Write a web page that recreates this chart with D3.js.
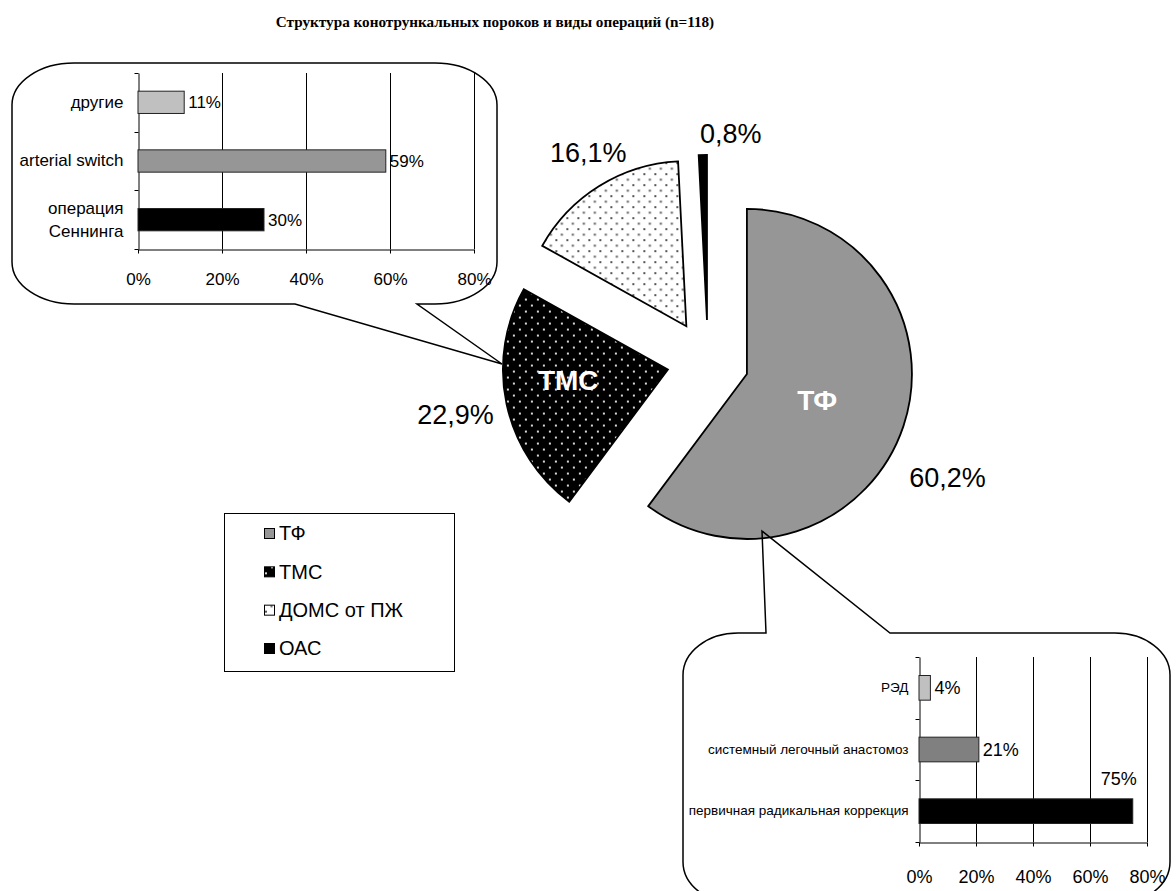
<!DOCTYPE html>
<html>
<head>
<meta charset="utf-8">
<script src="https://cdn.jsdelivr.net/npm/d3@7"></script>
<style>
  body { margin: 0; background: #fff; }
  svg { display: block; font-family: "Liberation Sans", Arial, sans-serif; }
</style>
</head>
<body>
<figure id="chart" style="margin:0"></figure>
<script>
// pie: structure of conotruncal defects
const defects = ["ТФ", "ТМС", "ДОМС от ПЖ", "ОАС"];
const defectShares = [60.2, 22.9, 16.1, 0.8];
const defectLabels = ["60,2%", "22,9%", "16,1%", "0,8%"];

// operations for ТМС
const tmcOps = ["другие", "arterial switch", "операция Сеннинга"];
const tmcValues = [0.11, 0.59, 0.30];

// operations for ТФ
const tfOps = ["РЭД", "системный легочный анастомоз", "первичная радикальная коррекция"];
const tfValues = [0.04, 0.21, 0.75];

const xTicks = [0, 0.2, 0.4, 0.6, 0.8];

const width = 1176, height = 891;

const svg = d3.select("figure#chart")
  .append("svg")
  .attr("width", width)
  .attr("height", height);

// patterns for the dotted slices
const defs = svg.append("defs");
function dotPattern(id, size, bg, dot) {
  const p = defs.append("pattern")
    .attr("id", id)
    .attr("width", size).attr("height", size)
    .attr("patternUnits", "userSpaceOnUse");
  p.append("rect").attr("width", size).attr("height", size).attr("fill", bg);
  p.append("rect").attr("x", 1).attr("y", 1).attr("width", 2).attr("height", 2).attr("fill", dot);
  p.append("rect").attr("x", 1 + size / 2).attr("y", 1 + size / 2).attr("width", 2).attr("height", 2).attr("fill", dot);
}
dotPattern("dotsDark", 12, "#000", "#d8d8d8");
dotPattern("dotsLight", 11, "#fff", "#555");

const sliceFill = {
  "ТФ": "#969696",
  "ТМС": "url(#dotsDark)",
  "ДОМС от ПЖ": "url(#dotsLight)",
  "ОАС": "#000"
};

// title
svg.append("text")
  .attr("x", 495).attr("y", 27)
  .attr("text-anchor", "middle")
  .style("font-family", "'Liberation Serif', 'Times New Roman', serif")
  .style("font-weight", "bold")
  .style("font-size", "15.2px")
  .text("Структура конотрункальных пороков и виды операций (n=118)");

// ---------- pie ----------
const cx = 708, cy = 361, R = 165, explode = 41;
const pieData = defects.map((d, i) => ({ name: d, value: defectShares[i], label: defectLabels[i] }));

const pie = d3.pie().sort(null).value(d => d.value).startAngle(0).endAngle(2 * Math.PI);
const arc = d3.arc().innerRadius(0).outerRadius(R);
const arcs = pie(pieData);

const mid = a => (a.startAngle + a.endAngle) / 2;
const dir = a => [Math.sin(mid(a)), -Math.cos(mid(a))];

const pieG = svg.append("g").attr("transform", `translate(${cx},${cy})`);

pieG.selectAll("path.slice")
  .data(arcs)
  .enter()
  .append("path")
  .attr("class", "slice")
  .attr("transform", d => `translate(${dir(d)[0] * explode},${dir(d)[1] * explode})`)
  .attr("d", arc)
  .attr("fill", d => sliceFill[d.data.name])
  .attr("stroke", "#000")
  .attr("stroke-width", 1.8)
  .attr("stroke-linejoin", "miter");

// percentage labels outside the pie (nudged like the Excel layout)
const outerNudge = { "ТФ": [6, 39], "ТМС": [-12, 2], "ДОМС от ПЖ": [10, 0], "ОАС": [29, 18] };
const labelR = explode + R + 40;
pieG.selectAll("text.pct")
  .data(arcs)
  .enter()
  .append("text")
  .attr("class", "pct")
  .attr("x", d => dir(d)[0] * labelR + outerNudge[d.data.name][0])
  .attr("y", d => dir(d)[1] * labelR + outerNudge[d.data.name][1])
  .attr("dy", "0.36em")
  .attr("text-anchor", "middle")
  .style("font-size", "27px")
  .text(d => d.data.label);

// names inside the two large slices
const innerNudge = { "ТФ": [-8, 0], "ТМС": [-19, -7] };
pieG.selectAll("text.inner")
  .data(arcs.filter(d => innerNudge[d.data.name]))
  .enter()
  .append("text")
  .attr("class", "inner")
  .attr("x", d => dir(d)[0] * (explode + R * 0.5) + innerNudge[d.data.name][0])
  .attr("y", d => dir(d)[1] * (explode + R * 0.5) + innerNudge[d.data.name][1])
  .attr("dy", "0.36em")
  .attr("text-anchor", "middle")
  .attr("fill", "#fff")
  .style("font-size", "28px")
  .style("font-weight", "bold")
  .text(d => d.data.name);

// ---------- legend ----------
const legend = svg.append("g");
legend.append("rect")
  .attr("x", 224.5).attr("y", 513.5)
  .attr("width", 230).attr("height", 158)
  .attr("fill", "#fff")
  .attr("stroke", "#000");

const legendY = d3.scalePoint().domain(defects).range([533, 648]);
const items = legend.selectAll("g.item")
  .data(defects)
  .enter()
  .append("g")
  .attr("class", "item")
  .attr("transform", d => `translate(264,${legendY(d)})`);
items.append("rect")
  .attr("x", 0.5).attr("y", -4.5)
  .attr("width", 10).attr("height", 10)
  .attr("fill", d => sliceFill[d])
  .attr("stroke", "#000");
items.append("text")
  .attr("x", 15).attr("dy", "0.36em")
  .style("font-size", "20px")
  .text(d => d);

// ---------- callouts ----------
function bubble(x0, y0, x1, y1, rx, ry, tail, side) {
  let p = `M${x0 + rx},${y0}`;
  if (side === "top") p += `L${tail[0][0]},${tail[0][1]}L${tail[1][0]},${tail[1][1]}L${tail[2][0]},${tail[2][1]}`;
  p += `L${x1 - rx},${y0}A${rx},${ry} 0 0 1 ${x1},${y0 + ry}`;
  p += `L${x1},${y1 - ry}A${rx},${ry} 0 0 1 ${x1 - rx},${y1}`;
  if (side === "bottom") p += `L${tail[0][0]},${tail[0][1]}L${tail[1][0]},${tail[1][1]}L${tail[2][0]},${tail[2][1]}`;
  p += `L${x0 + rx},${y1}A${rx},${ry} 0 0 1 ${x0},${y1 - ry}`;
  p += `L${x0},${y0 + ry}A${rx},${ry} 0 0 1 ${x0 + rx},${y0}Z`;
  return p;
}

svg.append("path")
  .attr("d", bubble(12, 63, 497, 304, 62, 42, [[417, 304], [502, 364], [295, 304]], "bottom"))
  .attr("fill", "none")
  .attr("stroke", "#000")
  .attr("stroke-width", 1.5);

svg.append("path")
  .attr("d", bubble(683, 633, 1170, 904, 55, 42, [[766, 633], [762, 531], [890, 633]], "top"))
  .attr("fill", "none")
  .attr("stroke", "#000")
  .attr("stroke-width", 1.5);

// ---------- bar charts ----------
function wrap(text, maxWidth, lineHeight) {
  text.each(function () {
    const t = d3.select(this);
    if (this.getComputedTextLength() <= maxWidth) return;
    const words = t.text().split(" ");
    const x = t.attr("x");
    t.text(null);
    const n = words.length;
    words.forEach((w, i) => {
      t.append("tspan")
        .attr("x", x)
        .attr("dy", i === 0 ? ((-(n - 1) / 2) * lineHeight + 0.32) + "em" : lineHeight + "em")
        .text(w);
    });
  });
}

function drawBars(cfg) {
  const g = svg.append("g");
  const x = d3.scaleLinear().domain([0, 0.8]).range([cfg.left, cfg.right]);
  const y = d3.scaleBand()
    .domain(cfg.cats)
    .range([cfg.top, cfg.bottom])
    .paddingInner(cfg.pad)
    .paddingOuter(cfg.pad / 2);

  // vertical gridlines
  g.selectAll("line.grid")
    .data(xTicks.filter(d => d > 0))
    .enter()
    .append("line")
    .attr("x1", d => Math.round(x(d)) + 0.5).attr("x2", d => Math.round(x(d)) + 0.5)
    .attr("y1", cfg.top).attr("y2", cfg.bottom)
    .attr("stroke", "#000");

  // bottom axis
  g.append("g")
    .attr("transform", `translate(0,${cfg.bottom + 0.5})`)
    .call(d3.axisBottom(x).tickValues(xTicks).tickFormat(d3.format(".0%"))
      .tickSize(4).tickSizeOuter(0).tickPadding(cfg.tickPad))
    .call(a => a.selectAll("line,path").attr("stroke", "#000"))
    .selectAll("text")
    .attr("fill", "#000")
    .style("font-family", "'Liberation Sans', Arial, sans-serif")
    .style("font-size", cfg.tickFont);

  // left axis with category labels
  const left = g.append("g")
    .attr("transform", `translate(${Math.round(cfg.left) + 0.5},0)`)
    .call(d3.axisLeft(y).tickSize(0).tickPadding(cfg.labelPad).tickSizeOuter(0));
  left.select("path").attr("stroke", "#000");
  left.selectAll("text")
    .attr("fill", "#000")
    .style("font-family", "'Liberation Sans', Arial, sans-serif")
    .style("font-size", cfg.catFont)
    .call(wrap, cfg.wrapWidth, 1.35);
  // ticks between categories
  left.selectAll("line.sep")
    .data(d3.range(cfg.cats.length + 1))
    .enter()
    .append("line")
    .attr("class", "sep")
    .attr("x1", -4).attr("x2", 0)
    .attr("y1", i => Math.round(cfg.top + i * (cfg.bottom - cfg.top) / cfg.cats.length) + 0.5)
    .attr("y2", i => Math.round(cfg.top + i * (cfg.bottom - cfg.top) / cfg.cats.length) + 0.5)
    .attr("stroke", "#000");

  // bars
  g.selectAll("rect.bar")
    .data(cfg.cats)
    .enter()
    .append("rect")
    .attr("class", "bar")
    .attr("x", x(0))
    .attr("y", d => y(d))
    .attr("width", (d, i) => x(cfg.values[i]) - x(0))
    .attr("height", y.bandwidth())
    .attr("fill", (d, i) => cfg.colors[i])
    .attr("stroke", "#222")
    .attr("stroke-width", 1);

  // value labels
  g.selectAll("text.val")
    .data(cfg.cats)
    .enter()
    .append("text")
    .attr("class", "val")
    .attr("x", (d, i) => x(cfg.values[i]) + 4)
    .attr("y", (d, i) => cfg.above[i] ? y(d) - 20 : y(d) + y.bandwidth() / 2)
    .attr("dy", "0.36em")
    .attr("text-anchor", (d, i) => cfg.above[i] ? "end" : "start")
    .style("font-size", cfg.valFont)
    .text((d, i) => d3.format(".0%")(cfg.values[i]));
}

drawBars({
  cats: tmcOps, values: tmcValues,
  colors: ["#c0c0c0", "#969696", "#000"],
  above: [false, false, false],
  left: 138, right: 474, top: 73, bottom: 249, pad: 0.62,
  tickPad: 19, labelPad: 15, wrapWidth: 120,
  tickFont: "17px", catFont: "17px", valFont: "17px"
});

drawBars({
  cats: tfOps, values: tfValues,
  colors: ["#c0c0c0", "#808080", "#000"],
  above: [false, false, true],
  left: 919, right: 1147, top: 657, bottom: 842, pad: 0.6,
  tickPad: 24, labelPad: 11, wrapWidth: 400,
  tickFont: "18px", catFont: "13.5px", valFont: "18px"
});
</script>
</body>
</html>
